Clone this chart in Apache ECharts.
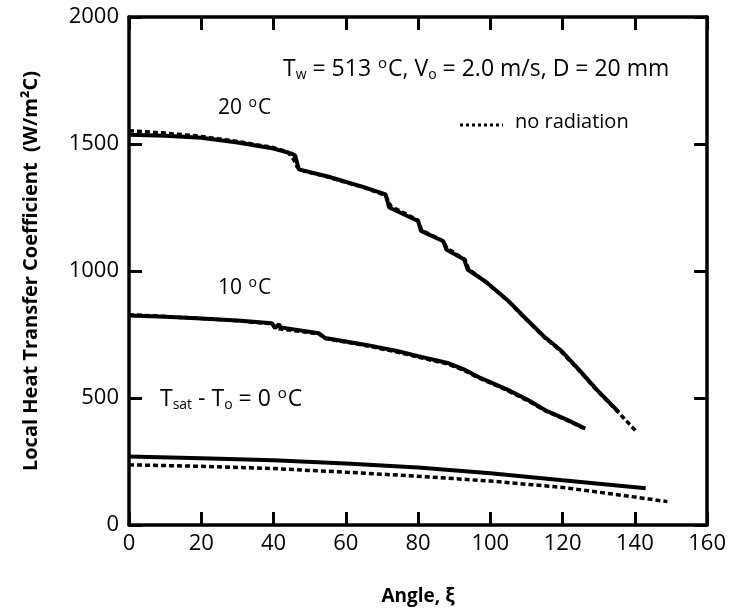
<!DOCTYPE html>
<html><head><meta charset="utf-8">
<script src="https://cdn.jsdelivr.net/npm/echarts@6/dist/echarts.min.js"></script>
<style>html,body{margin:0;padding:0;background:#fff}#c{width:729px;height:611px}</style>
</head><body><div id="c"></div>
<script>
// Data: [angle, h]
const xTicks = [0, 20, 40, 60, 80, 100, 120, 140, 160];
const yTicks = [0, 500, 1000, 1500, 2000];
const solid20 = [[0,1536],[10,1532],[20,1525],[30,1506],[40,1482],[45,1462],[46,1455],[47,1400],[55,1372],[65,1330],[71,1302],[72,1250],[80,1197],[80.8,1158],[87,1117],[87.8,1085],[92.8,1045],[93.7,1006],[99,955],[104.7,886],[109.3,820],[114.8,743],[119.4,689],[124.9,606],[129.5,532],[135.5,445]];
const dotted20 = [[0,1552],[10,1543],[20,1530],[30,1510],[40,1486],[44,1468],[45.5,1440],[46.5,1410],[48,1395],[55,1370],[65,1328],[71,1298],[72.5,1255],[80,1200],[81,1160],[87,1118],[88,1090],[93,1045],[94,1008],[99,953],[104.7,885],[109.3,818],[114.8,740],[119.4,686],[124.9,603],[129.5,530],[135,450],[140.5,367]];
const solid10 = [[0,825],[10,820],[20,813],[30,805],[39.6,794],[40.4,776],[41.5,790],[42,778],[52.5,755],[54.3,736],[65.3,710],[74.5,684],[80,665],[88.2,638],[92.8,612],[97.4,578],[104.7,533],[110.2,494],[115.7,448],[121,416],[125.8,383],[126.3,380]];
const dotted10 = [[0,828],[10,821],[20,813],[30,804],[39.6,792],[40.6,774],[52.5,753],[54.3,734],[65.3,707],[74.5,680],[80,661],[88.2,634],[92.8,608],[97.4,575],[104.7,530],[110.2,490],[115.7,446],[121,414],[125.8,381]];
const solid0 = [[0,270],[20,263],[40,255],[60,242],[80,226],[100,204],[120,176],[143,145]];
const dotted0 = [[0,237],[20,231],[40,222],[60,208],[80,192],[100,173],[120,148],[138.5,113],[149,92]];

const FONT = 'Open Sans';
const chart = echarts.init(document.getElementById('c'));
const tickStyle = {color:'#000', width:3};
const solidLine = (d) => ({type:'line', data:d, showSymbol:false, symbol:'none', lineStyle:{color:'#000', width:4, type:'solid'}, z:3, animation:false});
const dotLine = (d) => ({type:'line', data:d, showSymbol:false, symbol:'none', lineStyle:{color:'#000', width:3.5, type:[5,3]}, z:2, animation:false});

const richBase = (size) => ({
  n:{fontSize:size, fontFamily:FONT, color:'#000'},
  sub:{fontSize:Math.round(size*0.62), fontFamily:FONT, verticalAlign:'bottom', padding:[11,0,0,0], color:'#000'},
  sup:{fontSize:Math.round(size*0.65), fontFamily:FONT, verticalAlign:'top', padding:[0,1,11,1], color:'#000'}
});

chart.setOption({
  backgroundColor:'#fff',
  animation:false,
  grid:{left:129, right:18, top:17, bottom:86, show:false},
  xAxis:[{
    type:'value', min:0, max:160, interval:20, position:'bottom',
    name:'Angle, ξ', nameLocation:'middle', nameGap:62,
    nameTextStyle:{fontFamily:FONT, fontSize:19, color:'#000', fontWeight:'bold'},
    axisLine:{show:true, onZero:false, lineStyle:{color:'#000', width:3.5}},
    axisTick:{show:true, inside:true, length:13, lineStyle:tickStyle},
    axisLabel:{fontFamily:FONT, fontSize:22, color:'#000', margin:8, formatter:(v)=>String(v)},
    splitLine:{show:false}
  },{
    type:'value', min:0, max:160, interval:20, position:'top',
    axisLine:{show:true, onZero:false, lineStyle:{color:'#000', width:3.5}},
    axisTick:{show:true, inside:true, length:13, lineStyle:tickStyle},
    axisLabel:{show:false}, splitLine:{show:false}
  }],
  yAxis:[{
    type:'value', min:0, max:2000, interval:500, position:'left',
    name:'Local Heat Transfer Coefficient  (W/m²C)', nameLocation:'middle', nameGap:88, nameRotate:90,
    nameTextStyle:{fontFamily:FONT, fontSize:20, color:'#000', fontWeight:'bold'},
    axisLine:{show:true, onZero:false, lineStyle:{color:'#000', width:3.5}},
    axisTick:{show:true, inside:true, length:13, lineStyle:tickStyle},
    axisLabel:{fontFamily:FONT, fontSize:22, color:'#000', margin:10, formatter:(v)=>String(v)},
    splitLine:{show:false}
  },{
    type:'value', min:0, max:2000, interval:500, position:'right',
    axisLine:{show:true, onZero:false, lineStyle:{color:'#000', width:3.5}},
    axisTick:{show:true, inside:true, length:13, lineStyle:tickStyle},
    axisLabel:{show:false}, splitLine:{show:false}
  }],
  series:[
    dotLine(dotted20), solidLine(solid20),
    dotLine(dotted10), solidLine(solid10),
    dotLine(dotted0), solidLine(solid0),
    {type:'line', xAxisIndex:1, yAxisIndex:1, data:[], symbol:'none'}
  ],
  graphic:[
    {type:'text', left:283, top:56, style:{
      text:'{n|T}{sub|w}{n| = 513 }{sup|o}{n|C, V}{sub|o}{n| = 2.0 m/s, D = 20 mm}', rich:richBase(23)}},
    {type:'text', left:218, top:96, style:{text:'{n|20 }{sup|o}{n|C}', rich:richBase(21)}},
    {type:'text', left:218, top:276, style:{text:'{n|10 }{sup|o}{n|C}', rich:richBase(21)}},
    {type:'text', left:160, top:386, style:{text:'{n|T}{sub|sat}{n| - T}{sub|o}{n| = 0 }{sup|o}{n|C}', rich:richBase(23)}},
    {type:'line', shape:{x1:460, y1:125, x2:503, y2:125}, style:{stroke:'#000', lineWidth:3, lineDash:[3,3]}},
    {type:'text', left:515, top:112, style:{text:'no radiation', fill:'#000', font:`20px '${FONT}'`}}
  ]
});
</script></body></html>
